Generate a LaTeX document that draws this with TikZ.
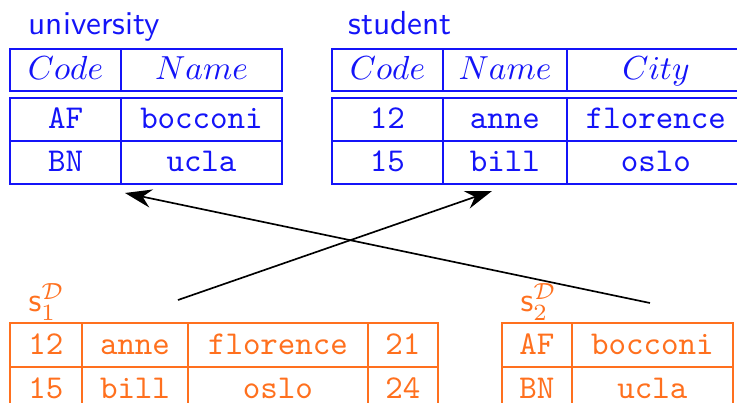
\documentclass[tikz,border=0pt]{standalone}
\usepackage{amsmath,amssymb}
\usepackage{xcolor}
\usetikzlibrary{arrows.meta}

\definecolor{tblue}{RGB}{20,20,248}
\definecolor{torange}{RGB}{255,112,30}

\begin{document}
\begin{tikzpicture}[>={Stealth[length=8pt,width=5.5pt]}, x=0.3pt, y=-0.3pt,
    title/.style={anchor=base west, font=\sffamily, inner sep=0pt},
    ucell/.style={draw=tblue, text=tblue, inner sep=0pt, font=\ttfamily,
      text height=7pt, text depth=1.5pt, minimum height=12.9pt},
    hcell/.style={ucell, minimum height=12.6pt},
    scell/.style={draw=torange, text=torange, inner sep=0pt, font=\ttfamily,
      text height=7pt, text depth=1.5pt, minimum height=13.2pt}]
  \useasboundingbox (0,0) rectangle (737,403);

  % university
  \node[title, text=tblue] (univ) at (28,35) {university};
  \foreach \n/\x/\w/\h in {code/65.5/33.3/Code, name/201.5/48.3/Name}
    \node[hcell, minimum width=\w pt] (univ-\n) at (\x,70) {$\h$};
  \foreach \r/\y/\a/\b in {1/119.5/AF/bocconi, 2/162.5/BN/ucla} {
    \node[ucell, minimum width=33.3pt] (univ-\r-code) at (65.5,\y) {\a};
    \node[ucell, minimum width=48.3pt] (univ-\r-name) at (201.5,\y) {\b};
  }

  % student
  \node[title, text=tblue] (stud) at (348,35) {student};
  \foreach \n/\x/\w/\h in {code/387.5/33.3/Code, name/505/37.2/Name, city/656/53.4/City}
    \node[hcell, minimum width=\w pt] (stud-\n) at (\x,70) {$\h$};
  \foreach \r/\y/\a/\b/\c in {1/119.5/12/anne/florence, 2/162.5/15/bill/oslo} {
    \node[ucell, minimum width=33.3pt] (stud-\r-code) at (387.5,\y) {\a};
    \node[ucell, minimum width=37.2pt] (stud-\r-name) at (505,\y) {\b};
    \node[ucell, minimum width=53.4pt] (stud-\r-city) at (656,\y) {\c};
  }

  % s1
  \node[title, text=torange] (s1) at (28,312) {$\mathsf{s}_1^{\mathcal{D}}$};
  \foreach \r/\y/\a/\b/\c/\d in {1/345/12/anne/florence/21, 2/389/15/bill/oslo/24} {
    \node[scell, minimum width=21.6pt] (s1-\r-a) at (46,\y) {\a};
    \node[scell, minimum width=31.8pt] (s1-\r-b) at (135,\y) {\b};
    \node[scell, minimum width=54pt] (s1-\r-c) at (278,\y) {\c};
    \node[scell, minimum width=21pt] (s1-\r-d) at (403,\y) {\d};
  }

  % s2
  \node[title, text=torange] (s2) at (520,312) {$\mathsf{s}_2^{\mathcal{D}}$};
  \foreach \r/\y/\a/\b in {1/345/AF/bocconi, 2/389/BN/ucla} {
    \node[scell, minimum width=21pt] (s2-\r-a) at (537,\y) {\a};
    \node[scell, minimum width=48.3pt] (s2-\r-b) at (652.5,\y) {\b};
  }

  % mappings
  \coordinate (s1-out) at (178,300);
  \coordinate (stud-in) at (492,191);
  \coordinate (s2-out) at (650,303);
  \coordinate (univ-in) at (125,193);
  \draw[->, line width=0.5pt] (s1-out) -- (stud-in);
  \draw[->, line width=0.5pt] (s2-out) -- (univ-in);
\end{tikzpicture}
\end{document}
